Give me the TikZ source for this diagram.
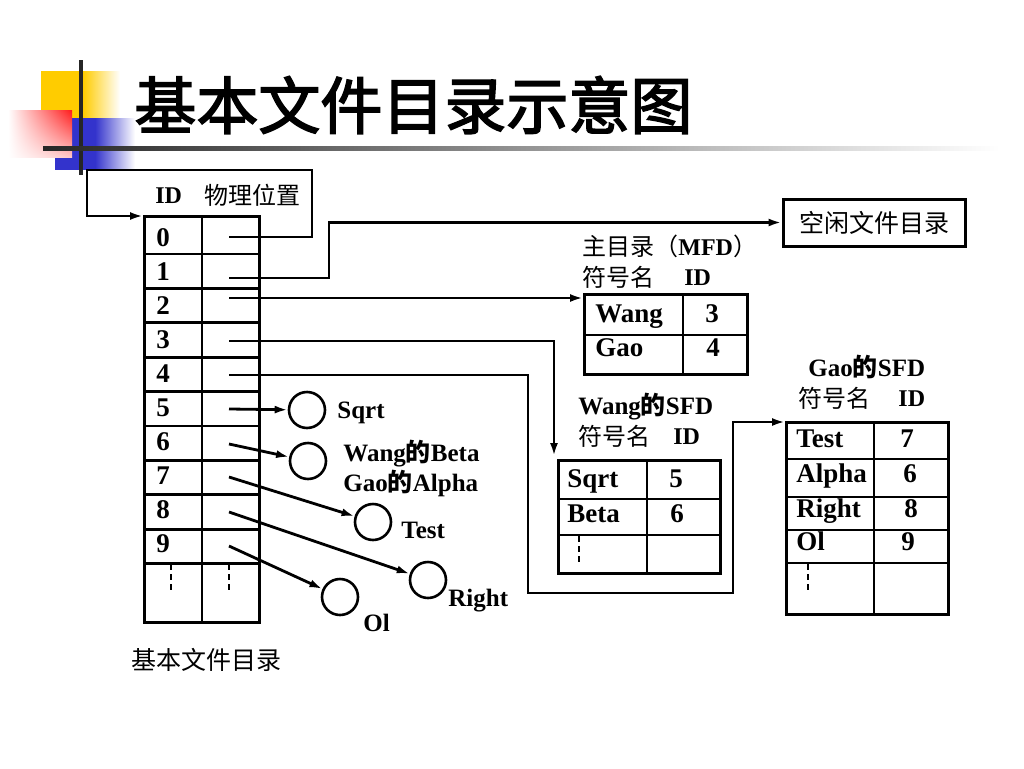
\documentclass[tikz,border=0pt]{standalone}
\usepackage{fontspec}
\setmainfont{Liberation Serif}
\newfontfamily\cjk{Noto Sans CJK SC}
\newfontfamily\cjkhead[FakeBold=2.5]{Noto Sans CJK SC}
\usetikzlibrary{arrows.meta,shadings}
\newcommand\zh[1]{{\cjk #1}}
\definecolor{gold}{HTML}{FFCC00}
\definecolor{blu}{HTML}{3333CC}
\definecolor{rd}{HTML}{FF1A1A}

\begin{document}
\begin{tikzpicture}[x=1pt,y=-1pt,line width=2.8pt,
  tbl/.style={draw,line width=3pt,inner sep=0pt,anchor=north west},
  ptr/.style={-{Latex[length=13pt,width=8pt]}},
  blob/.style={draw,circle,line width=2.6pt,minimum size=36pt,inner sep=0pt},
  lbl/.style={font=\bfseries\fontsize{25}{27}\selectfont,inner sep=0pt,anchor=west,
    text height=17pt,text depth=0pt},
  idl/.style={lbl,font=\bfseries\fontsize{24}{26}\selectfont,text height=16pt},
  cell/.style={font=\bfseries\fontsize{27}{29}\selectfont,inner sep=0pt,
    text height=18pt,text depth=0pt},
  hd/.style={font=\fontsize{24}{26}\selectfont,inner sep=0pt,anchor=west},
  dots/.style={dash pattern=on 6pt off 4pt}]
\useasboundingbox (0,0) rectangle (1024,768);

% title decoration
\fill[gold] (41,71) rectangle (83,118);
\shade[left color=gold,right color=white] (83,71) rectangle (120,118);
\fill[blu] (55,118) rectangle (95,170);
\shade[left color=blu,right color=white] (95,118) rectangle (135,170);
\shade[upper left=white,upper right=rd,lower left=white,lower right=rd!25] (8,110) rectangle (72,157);
\draw[line width=3.5pt,black!85] (81,60) -- (81,175);
\shade[left color=black!85,right color=white] (43,146) rectangle (1000,150.5);
\node[anchor=west,inner sep=0pt,font=\cjkhead\fontsize{62}{64}\selectfont] (title) at (133,105) {基本文件目录示意图};

% basic file directory
\node[tbl,minimum width=115pt,minimum height=406pt] (bfd) at (143,215) {};
\draw (202,215) -- (202,621);
\foreach \k in {0,...,9}
  \draw (143,{254+34.4*\k}) -- (258,{254+34.4*\k});
\foreach \i in {0,...,9}
  \node[cell] (n\i) at (163,{237+34*\i}) {\i};
\draw[dots] (171,564) -- (171,592);
\draw[dots] (229,564) -- (229,592);
\node[idl] (idh) at (154,195) {ID};
\node[hd] (posh) at (203,195) {\zh{物理位置}};
\node[hd,font=\fontsize{25}{27}\selectfont] (bfdname) at (130,660) {\zh{基本文件目录}};

% free file directory
\node[draw,line width=3pt,minimum width=182pt,minimum height=47pt,
  font=\fontsize{25}{27}\selectfont] (free) at (874,222.5) {\zh{空闲文件目录}};

% MFD
\node[tbl,minimum width=163pt,minimum height=80pt] (mfd) at (583,293) {};
\draw (683,293) -- (683,373);
\draw (583,335) -- (746,335);
\node[hd] (mfdh) at (581,246) {\zh{主目录（}{\bfseries MFD}\zh{）}};
\node[hd] (mfds) at (581,277) {\zh{符号名}};
\node[idl] (mfdi) at (683,277) {ID};
\node[cell,anchor=west] (wang) at (594,313) {Wang};
\node[cell] (wid) at (712,313) {3};
\node[cell,anchor=west] (gao) at (594,347) {Gao};
\node[cell] (gid) at (713,347) {4};

% Wang's SFD
\node[tbl,minimum width=162pt,minimum height=113pt] (wsfd) at (557,459) {};
\draw (647,459) -- (647,572);
\draw (557,499) -- (719,499);
\draw (557,535) -- (719,535);
\node[lbl] (wsfdh) at (577,406) {Wang\zh{的}SFD};
\node[hd] (wsfds) at (577,436) {\zh{符号名}};
\node[idl] (wsfdi) at (672,436) {ID};
\node[cell,anchor=west] (wsqrt) at (566,478) {Sqrt};
\node[cell] (wsqrtid) at (676,478) {5};
\node[cell,anchor=west] (wbeta) at (566,513) {Beta};
\node[cell] (wbetaid) at (677,513) {6};
\draw[dots] (579,536) -- (579,562);

% Gao's SFD
\node[tbl,minimum width=162pt,minimum height=192pt] (gsfd) at (785,421) {};
\draw (874,421) -- (874,613);
\foreach \y in {459,497,530,563}
  \draw (785,\y) -- (947,\y);
\node[lbl] (gsfdh) at (807,368) {Gao\zh{的}SFD};
\node[hd] (gsfds) at (797,398) {\zh{符号名}};
\node[idl] (gsfdi) at (897,398) {ID};
\node[cell,anchor=west] (gtest) at (795,438) {Test};
\node[cell] (gtestid) at (907,438) {7};
\node[cell,anchor=west] (galpha) at (795,473) {Alpha};
\node[cell] (galphaid) at (910,473) {6};
\node[cell,anchor=west] (gright) at (795,508) {Right};
\node[cell] (grightid) at (911,508) {8};
\node[cell,anchor=west] (gol) at (795,541) {Ol};
\node[cell] (golid) at (908,541) {9};
\draw[dots] (808,564) -- (808,592);

% file nodes
\node[blob] (c5) at (307,410) {};
\node[blob] (c6) at (308,461) {};
\node[blob] (c7) at (373,522) {};
\node[blob] (c8) at (428,580) {};
\node[blob] (c9) at (340,597) {};
\node[lbl] (sqrt) at (336,410) {Sqrt};
\node[lbl] (beta) at (342,453) {Wang\zh{的}Beta};
\node[lbl] (alpha) at (342,483) {Gao\zh{的}Alpha};
\node[lbl] (test) at (400,530) {Test};
\node[lbl] (right) at (447,598) {Right};
\node[lbl] (ol) at (362,623) {Ol};

% pointers
\foreach \i/\y in {0/237,1/278,2/298,3/341,4/375,5/409,6/444,7/477,8/512,9/546}
  \coordinate (p\i) at (229,\y);
\coordinate (r0) at (312,170);
\coordinate (l0) at (87,216);
\coordinate (r1) at (329,222.5);
\coordinate (d3) at (554,456);
\coordinate (d4) at (528,593);
\coordinate (u4) at (733,422);
\draw[ptr] (p0) -| (r0) -| (l0) -- (l0 -| bfd.west);
\draw[ptr] (p1) -| (r1) -- (r1 -| free.west);
\draw[ptr] (p2) -- (p2 -| mfd.west);
\draw[ptr] (p3) -| (d3);
\draw[ptr] (p4) -| (d4) -| (u4) -- (u4 -| gsfd.west);
\foreach \i in {5,...,9}
  \draw[ptr] (p\i) -- (c\i);
\end{tikzpicture}
\end{document}
